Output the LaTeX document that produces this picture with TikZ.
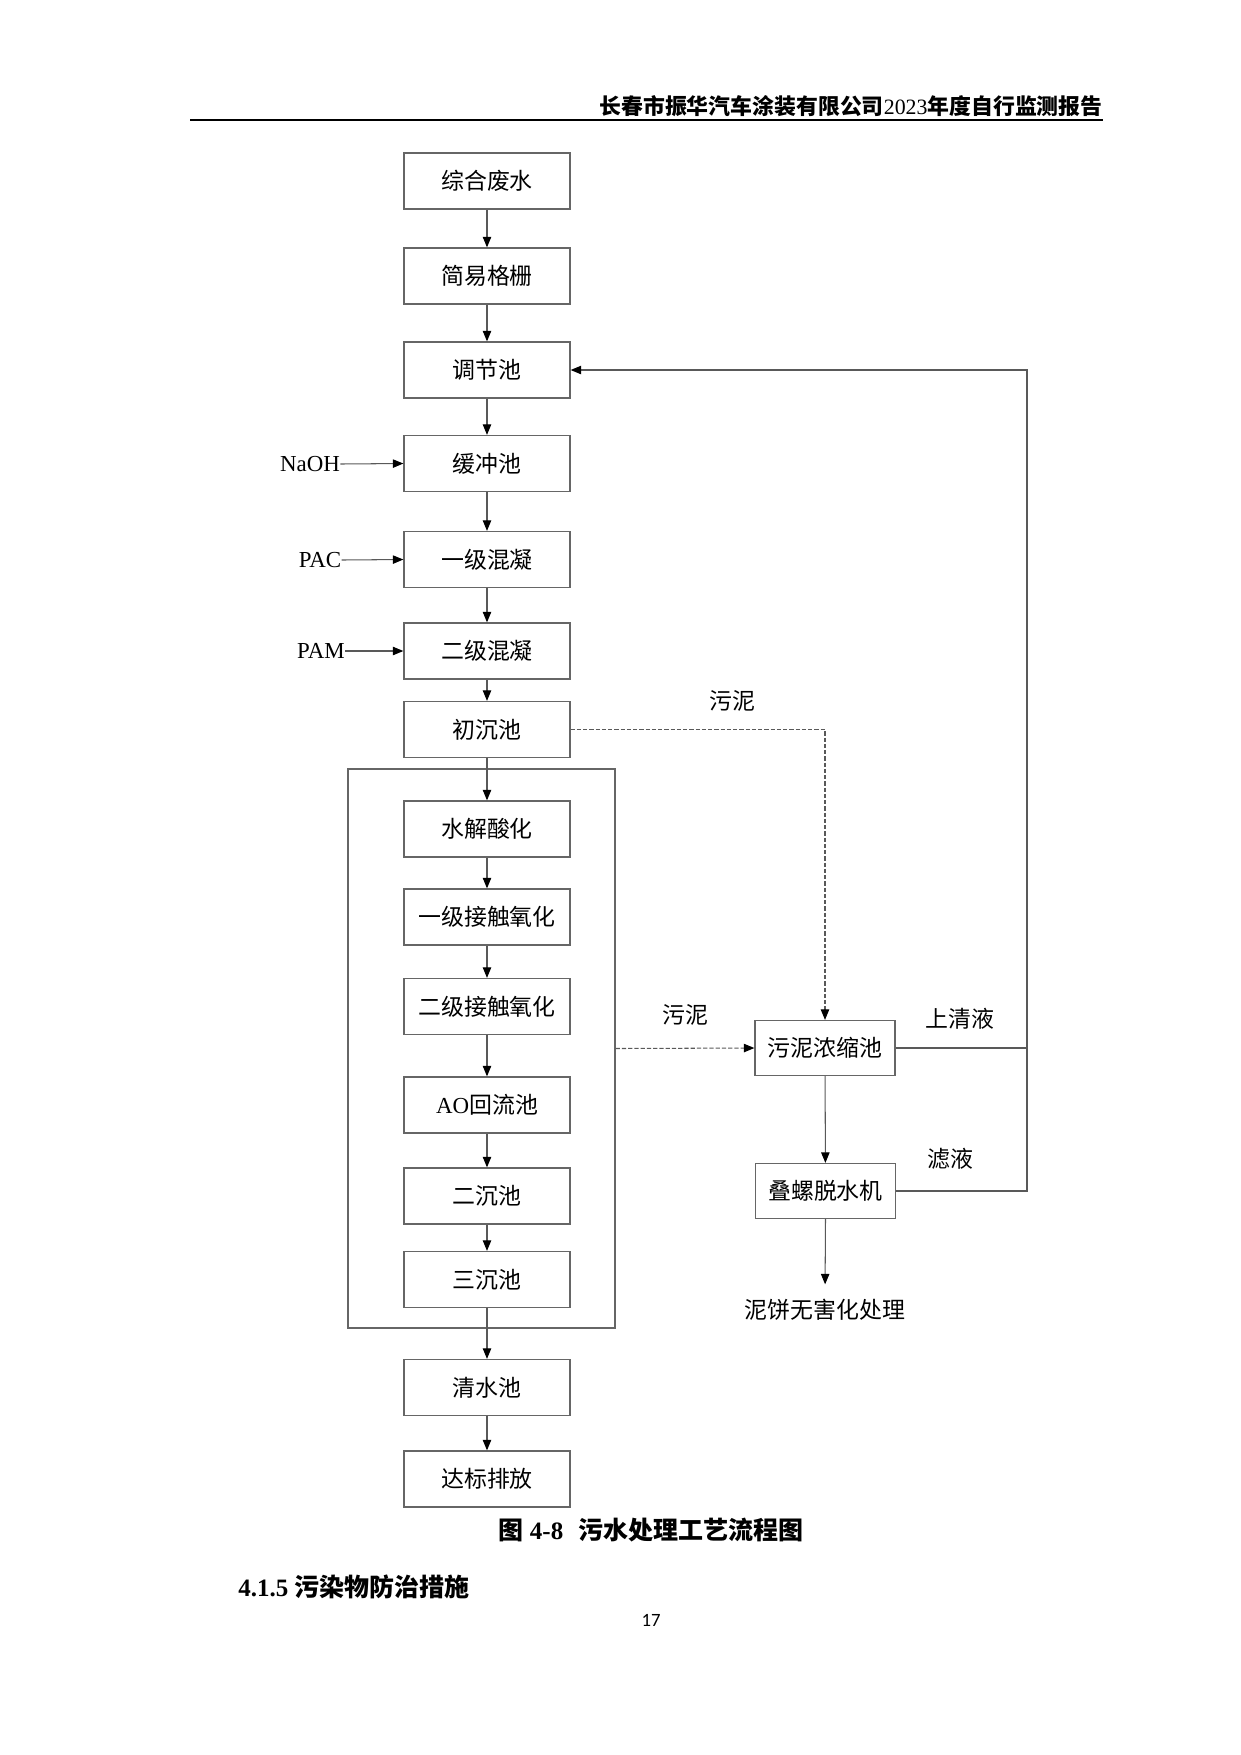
\documentclass[tikz,border=0pt]{standalone}
\usepackage{fontspec}
\setmainfont{Liberation Serif}
\newfontfamily\cjk{Noto Sans CJK SC}
\newfontfamily\pagefont{Carlito}
\usetikzlibrary{arrows.meta}
\tikzset{
  stepbox/.style={rectangle,draw=black!60,line width=0.6pt,
    minimum width=79.7pt,minimum height=26.9pt,inner sep=0pt,
    font=\cjk\fontsize{11}{13}\selectfont},
  sidebox/.style={stepbox,minimum width=67.2pt,minimum height=26.4pt},
  lbl/.style={inner sep=0pt,font=\cjk\fontsize{11}{13}\selectfont},
  chem/.style={inner sep=0pt,font=\fontsize{11}{13}\selectfont},
  plain/.style={draw=black!65,line width=0.5pt},
  flow/.style={plain,-{Triangle[length=5pt,width=4pt,color=black]}},
  sludge/.style={flow,dash pattern=on 2pt off 1pt}
}
\begin{document}
\begin{tikzpicture}[x=0.48pt,y=-0.48pt]
  \useasboundingbox (0,0) rectangle (1241,1755);

  % page header
  \node[anchor=east,inner sep=0pt,font=\fontsize{10.5}{12}\selectfont] (head) at (1103,106)
    {{\bfseries\cjk 长春市振华汽车涂装有限公司}2023{\bfseries\cjk 年度自行监测报告}};
  \draw[line width=0.8pt] (190,120) -- (1103,120);

  % biological stage
  \node[rectangle,draw=black!60,line width=0.6pt,minimum width=128.2pt,
        minimum height=268.3pt] (bio) at (481.5,1048.5) {};

  % main line
  \foreach \name/\y/\txt in {zhfs/181/综合废水,jygs/276/简易格栅,tjc/370/调节池,
                             hcc/463.5/缓冲池,yjhn/559.5/一级混凝,ejhn/651/二级混凝,
                             ccc/729.5/初沉池,sjsh/829/水解酸化,yjjc/917/一级接触氧化,
                             ejjc/1006.5/二级接触氧化,aohl/1105/{{\rmfamily AO}回流池},
                             ecc/1196/二沉池,scc/1279.5/三沉池,qsc/1387.5/清水池,
                             dbpf/1479/达标排放}
    \node[stepbox] (\name) at (487,\y) {\txt};

  \foreach \from/\to in {zhfs/jygs,jygs/tjc,tjc/hcc,hcc/yjhn,yjhn/ejhn,ejhn/ccc,
                         ccc/sjsh,sjsh/yjjc,yjjc/ejjc,ejjc/aohl,aohl/ecc,ecc/scc,
                         scc/qsc,qsc/dbpf}
    \draw[flow] (\from) -- (\to);

  % dosing
  \node[chem] (naoh) at (310,464) {NaOH};
  \node[chem] (pac) at (320,560) {PAC};
  \node[chem] (pam) at (321,651) {PAM};
  \foreach \from/\to in {naoh/hcc,pac/yjhn,pam/ejhn}
    \draw[flow] (\from.east) -- (\to.west);

  % sludge line
  \node[sidebox] (wnns) at (825,1048) {污泥浓缩池};
  \node[sidebox] (dls) at (825.5,1191) {叠螺脱水机};
  \node[lbl] (njcl) at (825,1310) {泥饼无害化处理};
  \node[lbl] (wn1) at (732,701) {污泥};
  \node[lbl] (wn2) at (685,1015) {污泥};
  \node[lbl] (sqy) at (960,1019) {上清液};
  \node[lbl] (ly) at (950,1159) {滤液};

  \draw[sludge] (ccc.east) -| (wnns.north);
  \draw[sludge] (bio.east) -- (wnns.west);
  \draw[flow] (wnns) -- (dls);
  \draw[flow,shorten >=7pt] (dls.south) -- (njcl.north);

  % return to equalisation tank
  \coordinate (fb) at (1027,370);
  \draw[flow] (dls.east) -| (fb) -- (tjc.east);
  \draw[plain] (wnns.east) -- (wnns.east -| fb);

  % caption and text
  \node[inner sep=0pt,font=\bfseries\fontsize{12}{14}\selectfont] (cap) at (651,1530)
    {{\cjk 图} 4-8\hspace{0.6em}{\cjk 污水处理工艺流程图}};
  \node[anchor=west,inner sep=0pt,font=\bfseries\fontsize{12}{14}\selectfont] (sec) at (238,1587)
    {4.1.5 {\cjk 污染物防治措施}};
  \node[inner sep=0pt,font=\pagefont\fontsize{9}{11}\selectfont] (pg) at (651,1620) {17};
\end{tikzpicture}
\end{document}
